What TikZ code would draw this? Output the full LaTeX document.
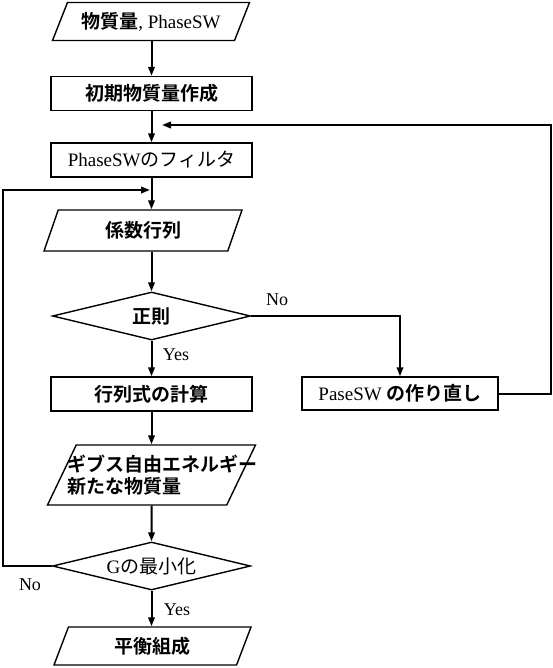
\documentclass[tikz,border=0pt]{standalone}
\usepackage{fontspec}
\setmainfont{Liberation Serif}
\newfontfamily\jp{Noto Sans CJK JP}[BoldFont={Noto Sans CJK JP Bold}]
\usepackage{tikz}
\usetikzlibrary{positioning, arrows.meta, shapes.geometric}

\newcommand{\jpb}{\jp\bfseries}

\tikzset{
    txt/.style={font=\fontsize{19}{22}\selectfont},
    box/.style={txt, draw, line width=1.4pt, minimum width=201pt, minimum height=34pt, inner sep=2pt},
    iobox/.style={txt, draw, line width=1.4pt, trapezium, trapezium left angle=57, trapezium right angle=123,
        trapezium stretches body, minimum height=38pt, inner sep=2pt},
    decide/.style={txt, draw, line width=1.4pt, diamond, aspect=4, inner sep=0pt, minimum width=198pt, minimum height=48pt},
    flow/.style={line width=2pt, -{Triangle[length=9pt,width=6.5pt]}},
    tag/.style={font=\fontsize{18}{20}\selectfont}
}

\begin{document}
\begin{tikzpicture}[x=1pt, y=-1pt]
    \useasboundingbox (0,0) rectangle (553,668);

    \node[iobox, minimum width=197pt] (inp) at (151,21.5) {{\jpb 物質量}, PhaseSW};
    \node[box] (init) at (151.5,93.5) {\jpb 初期物質量作成};
    \node[box] (filt) at (151.5,160) {PhaseSW{\jp のフィルタ}};
    \node[iobox, minimum width=198pt, minimum height=41pt] (coef) at (143,230.5) {\jpb 係数行列};
    \node[decide] (reg) at (151.5,316) {\jpb 正則};
    \node[box] (det) at (151.5,394) {\jpb 行列式の計算};
    \node[box, minimum width=196pt, minimum height=33pt] (redo) at (400,393.5) {PaseSW {\jpb の作り直し}};
    \node[iobox, minimum width=208pt, minimum height=60pt, align=left] (gibbs) at (151.5,475)
        {\jpb\makebox[134pt][l]{\hspace*{-17pt}ギブス自由エネルギー}\\\jpb\hspace*{-17pt}新たな物質量};
    \node[decide] (gmin) at (151.5,566) {G{\jp の最小化}};
    \node[iobox, minimum width=197pt] (eq) at (152.5,646) {\jpb 平衡組成};

    \coordinate (rtop) at (551,125);
    \coordinate (rjoin) at (162,125);
    \coordinate (ltop) at (3,190);
    \coordinate (ljoin) at (150,190);

    \draw[flow] (inp.south -| init.north) -- (init.north);
    \draw[flow] (init) -- (filt);
    \draw[flow] (filt.south) -- (filt.south |- coef.north);
    \draw[flow] (filt.south |- coef.south) -- (reg.north);
    \draw[flow] (reg) -- (det);
    \draw[flow] (det) -- (gibbs);
    \draw[flow] (gibbs) -- (gmin);
    \draw[flow] (gmin.south) -- (gmin.south |- eq.north);
    \draw[flow] (reg.east) -| (redo.north);
    \draw[flow] (redo.east) -| (rtop) -- (rjoin);
    \draw[flow] (gmin.west) -| (ltop) -- (ljoin);

    \node[tag] (noa) at (277,300) {No};
    \node[tag] (yesa) at (176,355) {Yes};
    \node[tag] (nob) at (30,585) {No};
    \node[tag] (yesb) at (177,610) {Yes};
\end{tikzpicture}
\end{document}
